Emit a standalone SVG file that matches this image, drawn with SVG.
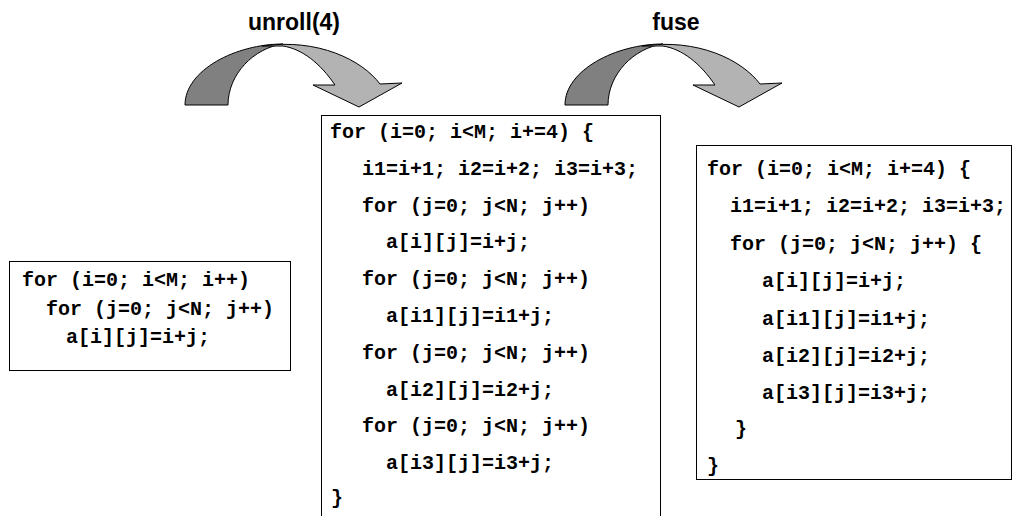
<svg xmlns="http://www.w3.org/2000/svg" width="1016" height="516" viewBox="0 0 1016 516">
<style>
.box{fill:#fff;stroke:#000;stroke-width:1}
.code{font-family:"Liberation Mono","Courier New",monospace;font-weight:bold;font-size:20px;fill:#000;white-space:pre}
.lbl{font-family:"Liberation Sans",Arial,sans-serif;font-weight:bold;font-size:23px;fill:#000;text-anchor:middle}
.dark{fill:#808080;stroke:#000;stroke-width:1}
.light{fill:#b3b3b3;stroke:#000;stroke-width:1}
</style>
<defs>
<g id="curvedArrow">
<path class="dark" d="M185,105 C185,70 236,44 283,44 C254,48 228,74 228,105 Z"/>
<path class="light" d="M262,46 C318,38 362,60 380,84 L402,83 L359,107 L313,85 L335,85 C320,63 302,49 283,46 Z"/>
</g>
</defs>
<g id="connectors">
<use href="#curvedArrow"/>
<use href="#curvedArrow" transform="translate(380,0)"/>
<text class="lbl" x="294" y="30">unroll(4)</text>
<text class="lbl" x="676" y="30">fuse</text>
</g>
<g id="node-original">
<rect class="box" x="9.5" y="261.5" width="281" height="109"/>
<text class="code" x="22" y="286">for (i=0; i&lt;M; i++)</text>
<text class="code" x="46" y="315">for (j=0; j&lt;N; j++)</text>
<text class="code" x="66" y="343">a[i][j]=i+j;</text>
</g>
<g id="node-unrolled">
<rect class="box" x="321.5" y="115.5" width="339" height="410"/>
<text class="code" x="330" y="138">for (i=0; i&lt;M; i+=4) {</text>
<text class="code" x="362" y="175">i1=i+1; i2=i+2; i3=i+3;</text>
<text class="code" x="362" y="212">for (j=0; j&lt;N; j++)</text>
<text class="code" x="386" y="248">a[i][j]=i+j;</text>
<text class="code" x="362" y="285">for (j=0; j&lt;N; j++)</text>
<text class="code" x="386" y="322">a[i1][j]=i1+j;</text>
<text class="code" x="362" y="359">for (j=0; j&lt;N; j++)</text>
<text class="code" x="386" y="396">a[i2][j]=i2+j;</text>
<text class="code" x="362" y="432">for (j=0; j&lt;N; j++)</text>
<text class="code" x="386" y="469">a[i3][j]=i3+j;</text>
<text class="code" x="331" y="504">}</text>
</g>
<g id="node-fused">
<rect class="box" x="696.5" y="145.5" width="315" height="334"/>
<text class="code" x="707" y="175">for (i=0; i&lt;M; i+=4) {</text>
<text class="code" x="730" y="212">i1=i+1; i2=i+2; i3=i+3;</text>
<text class="code" x="730" y="250">for (j=0; j&lt;N; j++) {</text>
<text class="code" x="762" y="287">a[i][j]=i+j;</text>
<text class="code" x="762" y="325">a[i1][j]=i1+j;</text>
<text class="code" x="762" y="362">a[i2][j]=i2+j;</text>
<text class="code" x="762" y="399">a[i3][j]=i3+j;</text>
<text class="code" x="735" y="435">}</text>
<text class="code" x="707" y="472">}</text>
</g>
</svg>
